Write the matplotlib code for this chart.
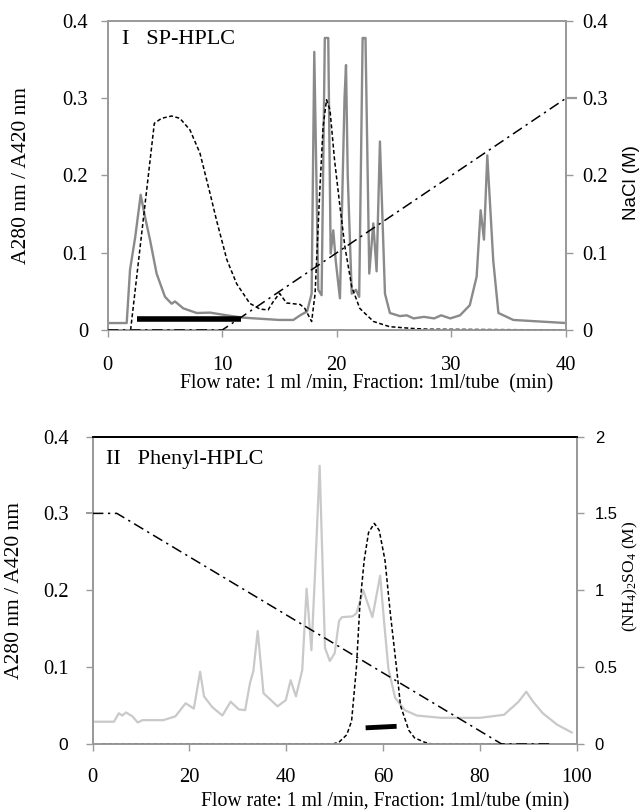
import matplotlib
matplotlib.use("Agg")
import matplotlib.pyplot as plt

plt.rcParams['font.family'] = ['Liberation Serif', 'DejaVu Serif']
plt.rcParams['mathtext.fontset'] = 'custom'
plt.rcParams['mathtext.rm'] = 'Liberation Serif'
plt.rcParams['mathtext.it'] = 'Liberation Serif:italic'

# ---------------- Panel I : SP-HPLC ----------------
sp_x = [0.2, 1.66, 1.95, 2.4, 2.88, 3.25, 3.69, 4.27, 5.0, 5.58, 5.87, 6.6, 7.77, 8.93,
        10.4, 11.8, 13.9, 15.0, 16.2, 16.8, 17.4, 17.8, 18.03, 18.38, 18.67, 18.95, 19.1,
        19.25, 19.46, 19.69, 19.9, 20.27, 20.67, 20.8, 20.95, 21.3, 21.67, 21.95, 22.25,
        22.38, 22.5, 22.83, 23.18, 23.47, 23.76, 24.2, 24.63, 25.5, 26.1, 26.7, 27.6, 28.5,
        29.1, 29.9, 30.75, 31.6, 32.2, 32.55, 32.84, 33.13, 33.65, 34.1, 35.4, 40.0]
sp_a280 = [0.009, 0.009, 0.078, 0.12, 0.175, 0.147, 0.117, 0.073, 0.043, 0.034, 0.037, 0.028,
           0.022, 0.0225, 0.019, 0.016, 0.014, 0.013, 0.013, 0.019, 0.024, 0.047, 0.36, 0.052,
           0.045, 0.378, 0.378, 0.378, 0.099, 0.129, 0.09, 0.041, 0.30, 0.343, 0.2, 0.047,
           0.052, 0.043, 0.378, 0.378, 0.378, 0.073, 0.138, 0.076, 0.244, 0.047, 0.022, 0.018,
           0.019, 0.015, 0.017, 0.015, 0.019, 0.015, 0.019, 0.032, 0.069, 0.155, 0.117, 0.226,
           0.09, 0.022, 0.013, 0.009]

sp_a420_x = [2.0, 4.07, 4.7, 5.58, 6.3, 7.18, 8.05, 8.93, 9.5, 10.4, 11.25, 12.4, 13.3, 14.0,
             14.45, 15.0, 15.6, 16.8, 17.2, 17.8, 18.1, 18.5, 18.8, 19.1, 19.4, 19.8, 20.27,
             20.7, 21.3, 22.0, 23.2, 24.6, 26.6, 28.0, 40.0]
sp_a420 = [0.0, 0.2675, 0.274, 0.277, 0.274, 0.259, 0.229, 0.177, 0.142, 0.091, 0.060, 0.0345,
           0.027, 0.026, 0.0367, 0.0475, 0.035, 0.033, 0.028, 0.011, 0.047, 0.177, 0.263,
           0.298, 0.285, 0.22, 0.16, 0.108, 0.056, 0.028, 0.011, 0.0043, 0.002, 0.001, 0.0]

sp_nacl_x = [0, 10, 40]
sp_nacl = [0, 0, 0.3]

sp_bar_x = [2.6, 11.6]
sp_bar_y = [0.014, 0.014]

sp_xticks = [0, 10, 20, 30, 40]
sp_yticks = [0, 0.1, 0.2, 0.3, 0.4]
sp_yticklabels = ['0', '0.1', '0.2', '0.3', '0.4']

# ---------------- Panel II : Phenyl-HPLC ----------------
ph_x = [0.5, 4.4, 5.4, 6.1, 6.9, 8.2, 9.3, 10.3, 14.6, 17.1, 19.2, 20.9, 22.2, 23.0, 24.7,
        26.8, 28.5, 30.2, 31.5, 32.5, 33.2, 34.1, 35.3, 38.2, 39.9, 40.9, 42.0, 43.3, 44.2,
        45.2, 46.0, 46.9, 48.0, 49.0, 50.0, 50.9, 51.5, 53.7, 54.5, 55.9, 57.8, 59.4, 60.2,
        61.1, 62.5, 64.5, 67.0, 72.0, 80.0, 85.0, 88.0, 89.6, 91.0, 93.0, 96.0, 99.0]
ph_a280 = [0.029, 0.029, 0.040, 0.037, 0.041, 0.036, 0.028, 0.031, 0.031, 0.036, 0.053, 0.046,
           0.094, 0.062, 0.048, 0.037, 0.055, 0.045, 0.044, 0.079, 0.095, 0.147, 0.066, 0.049,
           0.057, 0.083, 0.062, 0.096, 0.202, 0.122, 0.23, 0.362, 0.125, 0.108, 0.118, 0.16,
           0.165, 0.166, 0.17, 0.2, 0.165, 0.219, 0.16, 0.098, 0.06, 0.044, 0.037, 0.034,
           0.034, 0.038, 0.055, 0.068, 0.055, 0.04, 0.025, 0.015]

ph_a420_x = [1.9, 49.7, 51.0, 52.5, 53.5, 54.5, 55.2, 56.1, 57.0, 58.2, 59.2, 60.4, 61.5,
             62.8, 63.6, 65.3, 66.5, 68.7, 70.0, 94.5]
ph_a420 = [0.0, 0.0, 0.003, 0.012, 0.03, 0.1, 0.18, 0.239, 0.275, 0.287, 0.278, 0.239, 0.17,
           0.098, 0.05, 0.018, 0.008, 0.002, 0.0, 0.0]

ph_salt_x = [0, 5, 84.5, 95]
ph_salt = [1.5, 1.5, 0.0, 0.0]

ph_bar_x = [56.4, 62.8]
ph_bar_y = [0.021, 0.023]

ph_xticks = [0, 20, 40, 60, 80, 100]
ph_yticks = [0, 0.1, 0.2, 0.3, 0.4]
ph_yticklabels = ['0', '0.1', '0.2', '0.3', '0.4']
ph_rticks = [0, 0.5, 1, 1.5, 2]
ph_rticklabels = ['0', '0.5', '1', '1.5', '2']

GRAY = '#9a9a9a'
DOT = (0, (2.6, 1.6))
DASHDOT = (0, (7, 3, 1.5, 3))
SERIF = 'Liberation Serif'
SANS = 'Liberation Sans'
TS = 14.8

fig = plt.figure(figsize=(6.41, 8.10), dpi=100)


def style_axes(ax, axr, spine_top_color, ypad, xpad):
    for sp in ['left', 'right', 'bottom']:
        ax.spines[sp].set_color(GRAY)
        axr.spines[sp].set_color(GRAY)
        ax.spines[sp].set_linewidth(1.3)
        axr.spines[sp].set_linewidth(1.3)
    ax.spines['top'].set_color(spine_top_color)
    axr.spines['top'].set_color(spine_top_color)
    ax.spines['top'].set_linewidth(1.3)
    axr.spines['top'].set_linewidth(1.3)
    ax.tick_params(axis='both', direction='out', length=5, width=1, color=GRAY,
                   labelsize=TS, labelcolor='black')
    ax.tick_params(axis='x', pad=xpad)
    ax.tick_params(axis='y', pad=ypad)
    axr.tick_params(axis='y', direction='out', length=5, width=1, color=GRAY,
                    labelcolor='black', pad=7)


# ---- Panel I
ax1 = fig.add_axes([0.168, 0.5926, 0.715, 0.3815])
ax1r = ax1.twinx()
ax1.plot(sp_x, sp_a280, color='#8a8a8a', lw=1.7, zorder=2)
ax1.plot(sp_a420_x, sp_a420, color='black', lw=1.1, linestyle=DOT, zorder=3)
ax1r.plot(sp_nacl_x, sp_nacl, color='black', lw=1.1, linestyle=DASHDOT, zorder=3)
ax1.plot(sp_bar_x, sp_bar_y, color='black', lw=4, solid_capstyle='butt', zorder=4)
ax1.set_xlim(0, 40)
ax1.set_ylim(0, 0.4)
ax1r.set_ylim(0, 0.4)
ax1.set_xticks(sp_xticks)
ax1.set_yticks(sp_yticks)
ax1.set_yticklabels(sp_yticklabels)
ax1r.set_yticks(sp_yticks)
ax1r.set_yticklabels(sp_yticklabels, fontsize=TS, fontfamily=SERIF)
style_axes(ax1, ax1r, GRAY, ypad=9, xpad=13.5)
t = ax1r.yaxis.get_major_ticks()[3]
t.tick2line.set_color('black')
t.tick2line.set_markersize(8)
t.tick2line.set_markeredgewidth(1.6)
ax1.set_ylabel('A280 nm / A420 nm', fontsize=15.5)
ax1.yaxis.set_label_coords(-0.167, 0.5)
ax1.set_xlabel('Flow rate: 1 ml /min, Fraction: 1ml/tube  (min)', fontsize=14.2)
ax1.xaxis.set_label_coords(0.564, -0.142)
ax1r.set_ylabel('NaCl (M)', fontsize=13.5, fontfamily=SANS)
ax1r.yaxis.set_label_coords(1.124, 0.476)
ax1.text(0.031, 0.94, 'I   SP-HPLC', transform=ax1.transAxes, fontsize=16,
         ha='left', va='center')

# ---- Panel II
ax2 = fig.add_axes([0.1446, 0.0815, 0.755, 0.3796])
ax2r = ax2.twinx()
ax2.plot(ph_x, ph_a280, color='#c9c9c9', lw=1.6, zorder=2)
ax2.plot(ph_a420_x, ph_a420, color='black', lw=1.1, linestyle=DOT, zorder=3)
ax2r.plot(ph_salt_x, ph_salt, color='black', lw=1.1, linestyle=DASHDOT, zorder=3)
ax2.plot(ph_bar_x, ph_bar_y, color='black', lw=3.5, solid_capstyle='butt', zorder=4)
ax2.set_xlim(0, 100)
ax2.set_ylim(0, 0.4)
ax2r.set_ylim(0, 2)
ax2.set_xticks(ph_xticks)
ax2.set_yticks(ph_yticks)
ax2.set_yticklabels(ph_yticklabels)
ax2r.set_yticks(ph_rticks)
ax2r.set_yticklabels(ph_rticklabels, fontsize=12, fontfamily=SANS)
style_axes(ax2, ax2r, 'black', ypad=12.5, xpad=12.5)
ax2r.tick_params(axis='y', pad=8)
lab0 = ax2.get_yticklabels()[0]
lab0.set_fontfamily(SANS)
lab0.set_fontsize(12.5)
t2 = ax2.yaxis.get_major_ticks()[3]
t2.tick1line.set_color('black')
t2.tick1line.set_markeredgewidth(1.4)
ax2.set_ylabel('A280 nm / A420 nm', fontsize=15.5)
ax2.yaxis.set_label_coords(-0.142, 0.5)
ax2.set_xlabel('Flow rate: 1 ml /min, Fraction: 1ml/tube (min)', fontsize=14.2)
ax2.xaxis.set_label_coords(0.604, -0.156)
ax2r.set_ylabel(r'(NH$_\mathrm{4}$)$_\mathrm{2}$SO$_\mathrm{4}$ (M)', fontsize=12.5)
ax2r.yaxis.set_label_coords(1.092, 0.544)
ax2.text(0.027, 0.924, 'II   Phenyl-HPLC', transform=ax2.transAxes, fontsize=16,
         ha='left', va='center')

fig.savefig('out.png', dpi=100)
